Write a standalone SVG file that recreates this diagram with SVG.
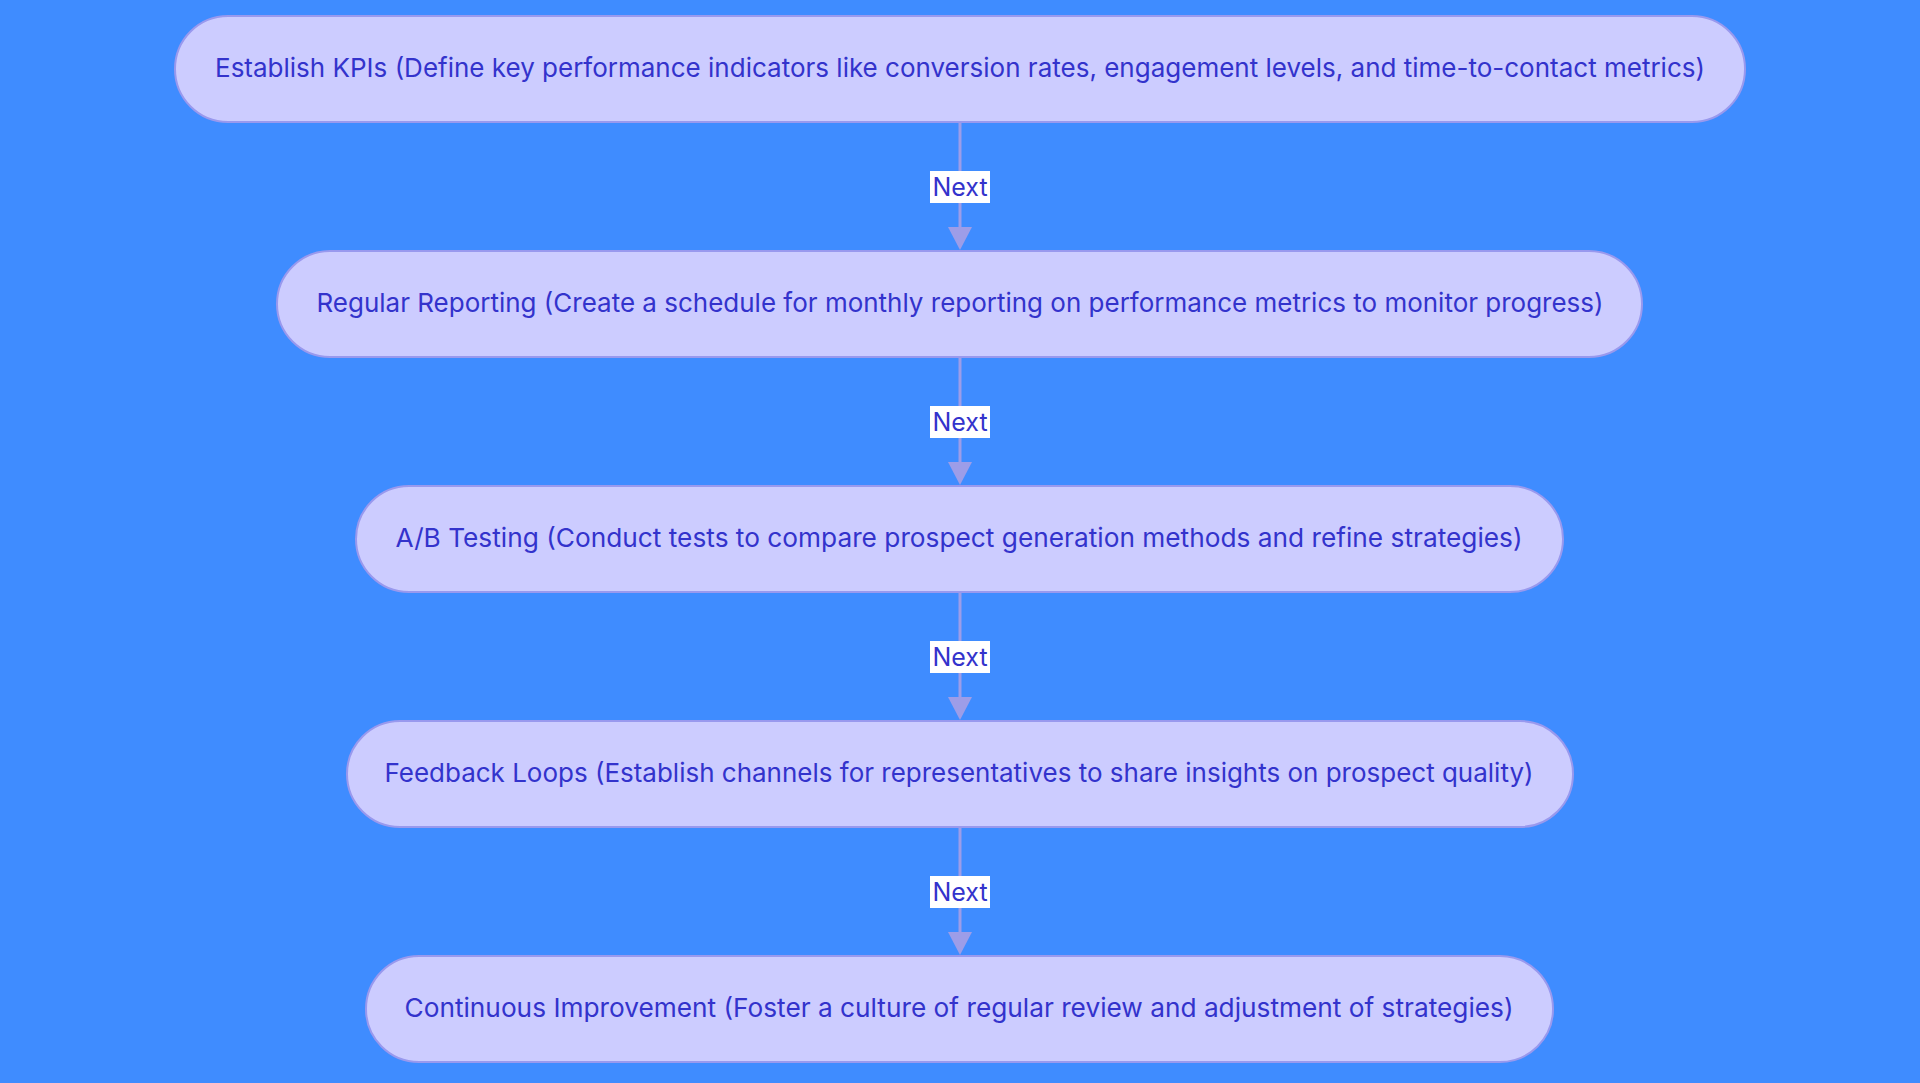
<svg xmlns="http://www.w3.org/2000/svg" width="1920" height="1083" viewBox="0 0 1920 1083">
<style>
.bg{fill:#3f8cff}
.node rect{fill:#ccccff;stroke:#9999ee;stroke-width:2}
.node text{font-family:Inter,"Open Sans","Liberation Sans",sans-serif;font-size:26px;fill:#3333cc;text-anchor:middle}
.edge line{stroke:#9d9de8;stroke-width:3}
.lbl rect{fill:#ffffff}
.lbl text{font-family:Inter,"Open Sans","Liberation Sans",sans-serif;font-size:25px;fill:#3333cc;text-anchor:middle}
</style>
<defs>
<marker id="arr" viewBox="0 0 24 23" refX="12" refY="23" markerWidth="24" markerHeight="23" markerUnits="userSpaceOnUse" orient="auto-start-reverse">
<path d="M0,0 L24,0 L12,23 Z" fill="#9d9de8"/>
</marker>
</defs>
<rect class="bg" x="0" y="0" width="1920" height="1083"/>
<g id="connectors">
<g class="edge"><line x1="960" y1="123" x2="960" y2="227"/><path d="M948,227 L972,227 L960,250 Z" fill="#9d9de8"/></g>
<g class="edge"><line x1="960" y1="358" x2="960" y2="462"/><path d="M948,462 L972,462 L960,485 Z" fill="#9d9de8"/></g>
<g class="edge"><line x1="960" y1="593" x2="960" y2="697"/><path d="M948,697 L972,697 L960,720 Z" fill="#9d9de8"/></g>
<g class="edge"><line x1="960" y1="828" x2="960" y2="932"/><path d="M948,932 L972,932 L960,955 Z" fill="#9d9de8"/></g>
<g class="lbl"><rect x="930" y="171" width="60" height="32"/><text x="960" y="196">Next</text></g>
<g class="lbl"><rect x="930" y="406" width="60" height="32"/><text x="960" y="431">Next</text></g>
<g class="lbl"><rect x="930" y="641" width="60" height="32"/><text x="960" y="666">Next</text></g>
<g class="lbl"><rect x="930" y="876" width="60" height="32"/><text x="960" y="901">Next</text></g>
</g>
<g id="n1" class="node"><rect x="175" y="16" width="1570" height="106" rx="53" ry="53"/><text x="960" y="77" textLength="1490" lengthAdjust="spacingAndGlyphs">Establish KPIs (Define key performance indicators like conversion rates, engagement levels, and time-to-contact metrics)</text></g>
<g id="n2" class="node"><rect x="277" y="251" width="1365" height="106" rx="53" ry="53"/><text x="960" y="312" textLength="1287" lengthAdjust="spacingAndGlyphs">Regular Reporting (Create a schedule for monthly reporting on performance metrics to monitor progress)</text></g>
<g id="n3" class="node"><rect x="356" y="486" width="1207" height="106" rx="53" ry="53"/><text x="959" y="547" textLength="1127" lengthAdjust="spacingAndGlyphs">A/B Testing (Conduct tests to compare prospect generation methods and refine strategies)</text></g>
<g id="n4" class="node"><rect x="347" y="721" width="1226" height="106" rx="53" ry="53"/><text x="959" y="782" textLength="1149" lengthAdjust="spacingAndGlyphs">Feedback Loops (Establish channels for representatives to share insights on prospect quality)</text></g>
<g id="n5" class="node"><rect x="366" y="956" width="1187" height="106" rx="53" ry="53"/><text x="959" y="1017" textLength="1109" lengthAdjust="spacingAndGlyphs">Continuous Improvement (Foster a culture of regular review and adjustment of strategies)</text></g>
</svg>
